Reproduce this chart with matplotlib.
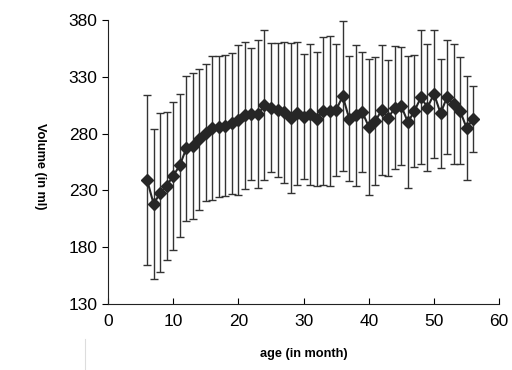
import numpy as np
import matplotlib
matplotlib.use('Agg')
import matplotlib.pyplot as plt
from matplotlib.lines import Line2D

plt.rcParams['font.family'] = ['Liberation Sans', 'DejaVu Sans']

# ── Data (mean ± SD per month) ────────────────────────────────────────────────
age_month = list(range(6, 57))
volume_mean = [
    239, 218, 228, 234, 243, 252, 267, 269, 275, 281,   # 6-15
    285, 286, 287, 289, 292, 296, 297, 297, 305, 303,   # 16-25
    301, 299, 294, 298, 295, 297, 293, 300, 300, 301,   # 26-35
    313, 293, 296, 299, 286, 291, 301, 294, 303, 304,   # 36-45
    290, 300, 312, 303, 315, 298, 312, 306, 300, 285,   # 46-55
    293,                                                # 56
]
volume_sd = [
    75, 66, 70, 65, 65, 63, 64, 64, 62, 60,
    63, 62, 62, 62, 66, 65, 58, 65, 66, 57,
    59, 62, 66, 63, 55, 62, 59, 65, 66, 58,
    66, 55, 62, 53, 60, 56, 57, 51, 54, 52,
    58, 49, 59, 56, 56, 48, 50, 53, 47, 46,
    29,
]

x_ticks = [0, 10, 20, 30, 40, 50, 60]
y_ticks = [130, 180, 230, 280, 330, 380]

# ── Figure ─────────────────────────────────────────────────────────────────────
fig = plt.figure(figsize=(5.12, 3.70), dpi=100)
ax = fig.add_axes([0.211, 0.178, 0.764, 0.768])

ax.errorbar(age_month, volume_mean, yerr=volume_sd,
            fmt='-D', color='#262626', ecolor='#333333',
            elinewidth=1.0, capsize=3, capthick=1.0,
            linewidth=1.5, markersize=6)

ax.set_xlim(0, 60)
ax.set_ylim(130, 380)
ax.set_xticks(x_ticks)
ax.set_yticks(y_ticks)
ax.tick_params(axis='x', direction='in', length=4, labelsize=12.5, pad=7)
ax.tick_params(axis='y', direction='out', length=4, labelsize=12.5)

for side in ('top', 'right'):
    ax.spines[side].set_visible(False)
for side in ('left', 'bottom'):
    ax.spines[side].set_color('#222')

fig.text(0.078, 0.551, 'Volume (in ml)', rotation=-90, ha='center', va='center',
         fontsize=9.2, fontweight='bold')
fig.text(0.593, 0.042, 'age (in month)', ha='center', va='center',
         fontsize=9.2, fontweight='bold')

# faint scan artefact line below the axis
fig.add_artist(Line2D([0.166, 0.166], [0.0, 0.085], transform=fig.transFigure,
                      color='#dddddd', linewidth=0.8))

fig.savefig('out.png', dpi=100)
